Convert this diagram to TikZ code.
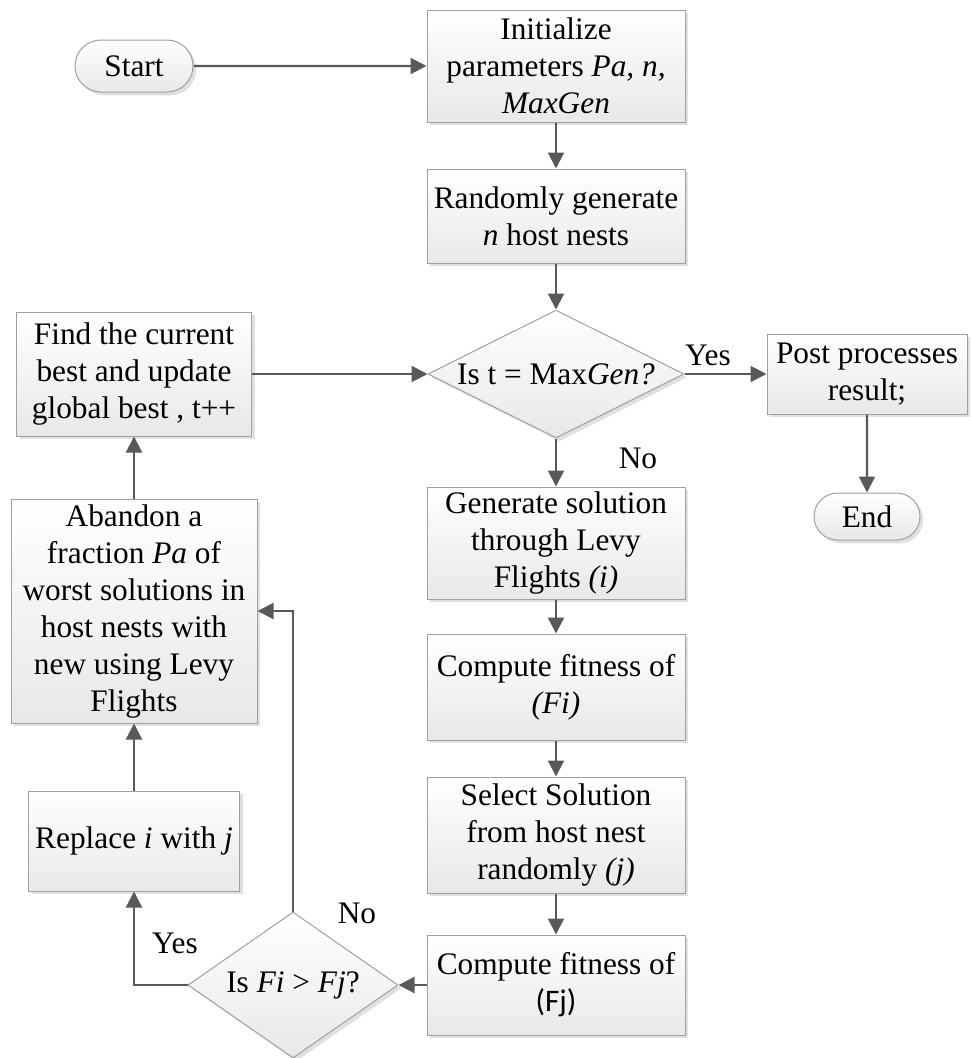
\documentclass[tikz,border=0pt]{standalone}
\usepackage{fontspec}
\setmainfont{Liberation Serif}
\newfontfamily\carlito{Carlito}
\usetikzlibrary{shapes.geometric,shapes.misc,arrows.meta,shadows}
\definecolor{bordergray}{RGB}{160,160,160}
\definecolor{arrowgray}{RGB}{89,89,89}
\begin{document}
\begin{tikzpicture}[x=0.75pt,y=-0.75pt,
  base/.style={draw=bordergray, line width=0.75pt, top color=white, bottom color=black!9,
    drop shadow={shadow xshift=2.5pt, shadow yshift=-2.5pt, fill=black!12, opacity=1},
    align=center, font=\fontsize{23.5}{27.75}\selectfont, inner sep=0pt},
  proc/.style={base, rectangle},
  term/.style={base, rounded rectangle},
  decision/.style={base, diamond},
  conn/.style={draw=arrowgray, line width=1.6pt, -{Triangle[length=12pt,width=12pt]}},
  lbl/.style={font=\fontsize{23.5}{27.75}\selectfont, inner sep=0pt}
]
\useasboundingbox (0,0) rectangle (971,1058);

\node[term, minimum width=88.5pt, minimum height=39pt] (start) at (134,66) {Start};
\node[proc, minimum width=193.5pt, minimum height=84pt] (init) at (556,66) {Initialize\\parameters \textit{Pa, n,}\\\textit{MaxGen}};
\node[proc, minimum width=193.5pt, minimum height=70.5pt] (rand) at (556,216) {Randomly generate\\\textit{n} host nests};
\node[decision, aspect=2, minimum width=192pt, minimum height=96pt] (d1) at (556,374) {Is t = Max\textit{Gen?}};
\node[proc, minimum width=176.25pt, minimum height=93pt] (find) at (134,374) {Find the current\\best and update\\global best , t++};
\node[proc, minimum width=150pt, minimum height=60pt] (post) at (867,374) {Post processes\\result;};
\node[term, minimum width=79.5pt, minimum height=35.25pt] (end) at (867,516.5) {End};
\node[proc, minimum width=193.5pt, minimum height=84pt] (gen) at (556,543) {Generate solution\\through Levy\\Flights \textit{(i)}};
\node[proc, minimum width=193.5pt, minimum height=79.5pt] (fi) at (556,687) {Compute fitness of\\\textit{(Fi)}};
\node[proc, minimum width=193.5pt, minimum height=87pt] (sel) at (556,835) {Select Solution\\from host nest\\randomly \textit{(j)}};
\node[proc, minimum width=193.5pt, minimum height=75pt] (fj) at (556,985) {Compute fitness of\\{\carlito (Fj)}};
\node[proc, minimum width=184.5pt, minimum height=168pt] (aband) at (134,611) {Abandon a\\fraction \textit{Pa} of\\worst solutions in\\host nests with\\new using Levy\\Flights};
\node[proc, minimum width=158.25pt, minimum height=75pt] (repl) at (134,841) {Replace \textit{i} with \textit{j}};
\node[decision, aspect=1.45, minimum width=157.5pt, minimum height=109.5pt] (d2) at (293,985) {Is \textit{Fi} > \textit{Fj}?};

\node[lbl] (yes1) at (708,355) {Yes};
\node[lbl] (no1) at (638,458) {No};
\node[lbl] (yes2) at (175,943) {Yes};
\node[lbl] (no2) at (357,913) {No};

\draw[conn] (start) -- (init);
\draw[conn] (init) -- (rand);
\draw[conn] (rand) -- (d1);
\draw[conn] (d1) -- (gen);
\draw[conn] (d1.east) -- (post.west);
\draw[conn] (post) -- (end);
\draw[conn] (gen) -- (fi);
\draw[conn] (fi) -- (sel);
\draw[conn] (sel) -- (fj);
\draw[conn] (fj.west) -- (d2.east);
\draw[conn] (d2.west) -| (repl.south);
\draw[conn] (d2.north) |- (aband.east);
\draw[conn] (repl) -- (aband);
\draw[conn] (aband) -- (find);
\draw[conn] (find.east) -- (d1.west);
\end{tikzpicture}
\end{document}
